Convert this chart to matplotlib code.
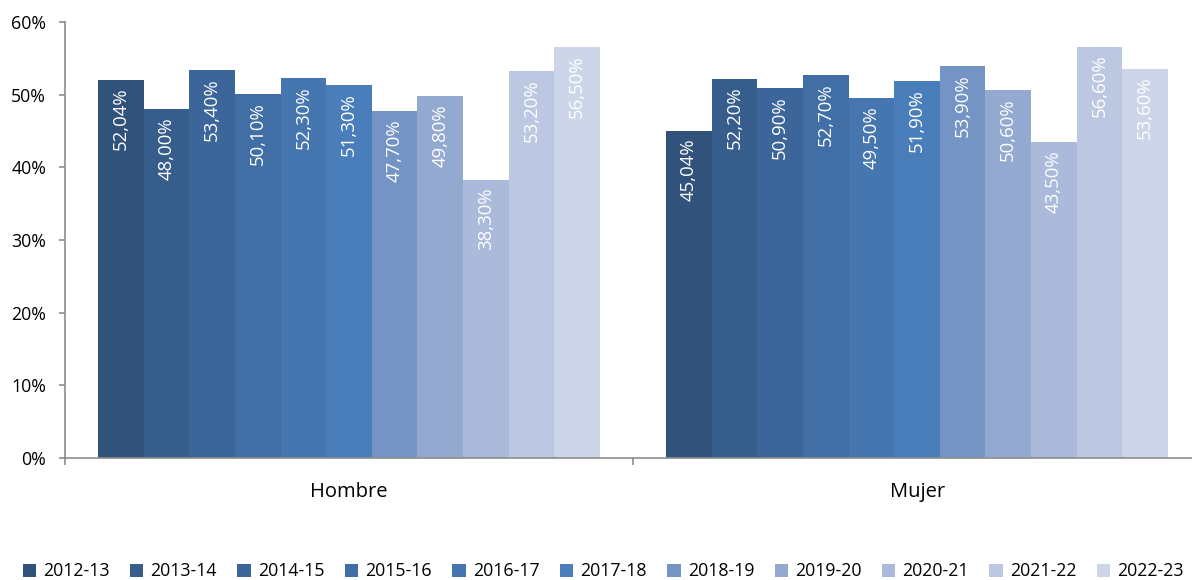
import matplotlib
matplotlib.use("Agg")
import matplotlib.pyplot as plt
import numpy as np
from matplotlib.ticker import FuncFormatter

plt.rcParams['font.family'] = ['Open Sans', 'DejaVu Sans']

categories = ["Hombre", "Mujer"]
series = ["2012-13", "2013-14", "2014-15", "2015-16", "2016-17", "2017-18",
          "2018-19", "2019-20", "2020-21", "2021-22", "2022-23"]
hombre = [52.04, 48.00, 53.40, 50.10, 52.30, 51.30, 47.70, 49.80, 38.30, 53.20, 56.50]
mujer = [45.04, 52.20, 50.90, 52.70, 49.50, 51.90, 53.90, 50.60, 43.50, 56.60, 53.60]
colors = ["#31527A", "#375D8C", "#3C6699", "#416FA5", "#4576AF", "#4A7EBB",
          "#7394C4", "#93A9D0", "#ABBADA", "#BCC8E1", "#CDD6E8"]

fig = plt.figure(figsize=(11.92, 5.8), dpi=100)
ax = fig.add_axes([65/1192, 1-458/580, (1192-65)/1192, (458-22)/580])

n = len(series)
w = 0.0803
x = np.arange(len(categories))
for i, s in enumerate(series):
    vals = [hombre[i], mujer[i]]
    pos = x + (i - (n-1)/2) * w
    ax.bar(pos, vals, width=w, color=colors[i], label=s, linewidth=0)
    for p, v in zip(pos, vals):
        lbl = f"{v:.2f}".replace(".", ",") + "%"
        ax.text(p, v - 1.1, lbl, rotation=90, ha='center', va='top',
                color='white', fontsize=13.4)

ax.set_yticks(range(0, 61, 10))
ax.yaxis.set_major_formatter(FuncFormatter(lambda v, p: f"{int(v)}%"))
ax.set_xticks(x)
ax.set_xticklabels(categories, fontsize=14.5)
ax.tick_params(axis='x', which='major', length=0, pad=17)
ax.set_xticks([-0.5, 0.5], minor=True)
ax.tick_params(axis='x', which='minor', length=5, color='#8c8c8c', width=1.2)
ax.tick_params(axis='y', length=4.5, color='#8c8c8c', width=1.2, labelsize=12.8, pad=9)
ax.set_ylim(0, 60)
ax.set_xlim(-0.5, 1.484)
for sp in ['top', 'right']:
    ax.spines[sp].set_visible(False)
for sp in ['left', 'bottom']:
    ax.spines[sp].set_color('#8c8c8c')
    ax.spines[sp].set_linewidth(1.2)

fig.legend(loc='lower center', bbox_to_anchor=(0.506, -0.028), ncol=11, frameon=False,
           fontsize=12.8, handlelength=0.75, handleheight=0.75, handletextpad=0.4,
           columnspacing=1.15)

fig.savefig("out.png", dpi=100)
